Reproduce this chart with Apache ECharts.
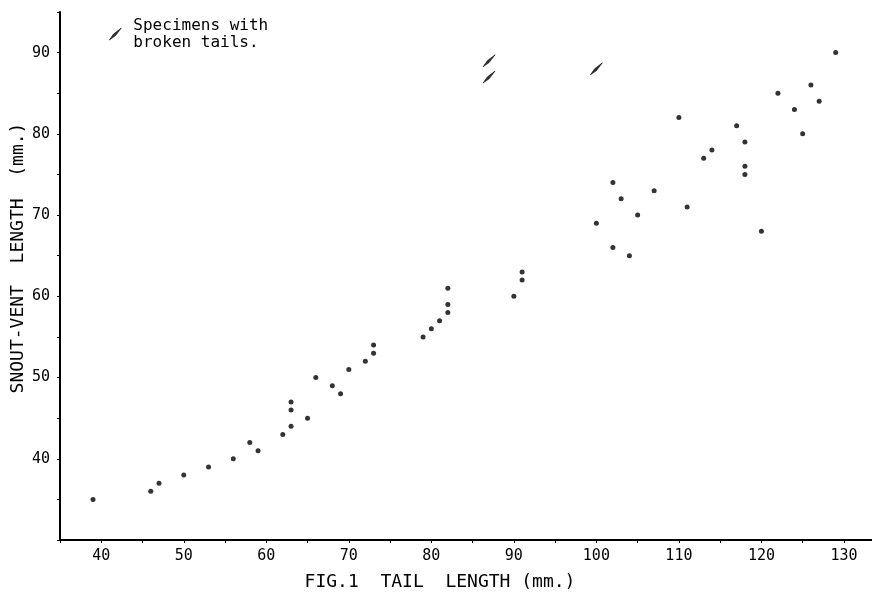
<!DOCTYPE html>
<html>
<head>
<meta charset="utf-8">
<script src="https://cdn.jsdelivr.net/npm/echarts@6/dist/echarts.min.js"></script>
<style>
html,body{margin:0;padding:0;background:#fff;}
#c{width:872px;height:596px;}
</style>
</head>
<body>
<div id="c"></div>
<script>
// Tail length (mm) vs snout-vent length (mm)
const intactSpecimens = [
  [39,35],[46,36],[47,37],[50,38],[53,39],[56,40],[58,42],[59,41],[62,43],[63,44],
  [63,46],[63,47],[65,45],[66,50],[68,49],[69,48],[70,51],[72,52],[73,53],[73,54],
  [79,55],[80,56],[81,57],[82,58],[82,59],[82,61],[90,60],[91,62],[91,63],[100,69],
  [102,66],[102,74],[103,72],[104,65],[105,70],[107,73],[110,82],[111,71],[113,77],
  [114,78],[117,81],[118,79],[118,76],[118,75],[120,68],[122,85],[124,83],[125,80],
  [126,86],[127,84],[129,90]
];
const brokenTailSpecimens = [[87,89],[87,87],[100,88]];
const xTickLabels = [40,50,60,70,80,90,100,110,120,130];
const yTickLabels = [40,50,60,70,80,90];
const xTitle = 'FIG.1  TAIL  LENGTH (mm.)';
const yTitle = 'SNOUT-VENT  LENGTH  (mm.)';
const legendName = 'Specimens with\nbroken tails.';

const FONT = 'DejaVu Sans Mono';
const INK = '#000';
const slash = 'path://M0,20 L7,10 L20,0 L10,13 Z';

const chart = echarts.init(document.getElementById('c'), null, {renderer:'canvas'});
chart.setOption({
  backgroundColor:'#fff',
  animation:false,
  grid:{left:60, right:0, top:12, bottom:56, containLabel:false, outerBoundsMode:'none'},
  legend:{
    data:[{name:legendName, icon:slash}],
    left:104, top:12, orient:'vertical',
    itemWidth:12, itemHeight:12, itemGap:4,
    itemStyle:{borderColor:INK, borderWidth:0.7},
    textStyle:{fontFamily:FONT, fontSize:16, color:INK, lineHeight:17, padding:[0,0,0,7]},
    selectedMode:false
  },
  xAxis:{
    type:'value', min:35, max:133.4, interval:5,
    name:xTitle, nameLocation:'middle', nameGap:33, nameMoveOverlap:false,
    nameTextStyle:{fontFamily:FONT, fontSize:18, color:INK, padding:[0,52,0,0]},
    axisLine:{show:true, lineStyle:{color:INK, width:2}},
    axisTick:{show:true, inside:false, length:3, lineStyle:{color:INK, width:1}},
    axisLabel:{
      color:INK, fontFamily:FONT, fontSize:15, margin:9,
      formatter:v => xTickLabels.includes(v) ? String(v) : ''
    },
    splitLine:{show:false}
  },
  yAxis:{
    type:'value', min:30, max:95, interval:5,
    name:yTitle, nameLocation:'middle', nameGap:33, nameMoveOverlap:false,
    nameTextStyle:{fontFamily:FONT, fontSize:18, color:INK, padding:[0,0,0,36]},
    axisLine:{show:true, lineStyle:{color:INK, width:2}},
    axisTick:{show:true, inside:false, length:3, lineStyle:{color:INK, width:1}},
    axisLabel:{
      color:INK, fontFamily:FONT, fontSize:15, margin:10,
      formatter:v => yTickLabels.includes(v) ? String(v) : ''
    },
    splitLine:{show:false}
  },
  series:[
    {
      name:'Intact tails', type:'scatter', data:intactSpecimens,
      symbol:'circle', symbolSize:5,
      itemStyle:{color:INK}
    },
    {
      name:legendName, type:'scatter', data:brokenTailSpecimens,
      symbol:slash, symbolSize:12,
      itemStyle:{color:INK, borderColor:INK, borderWidth:0.7}
    }
  ]
});
</script>
</body>
</html>
